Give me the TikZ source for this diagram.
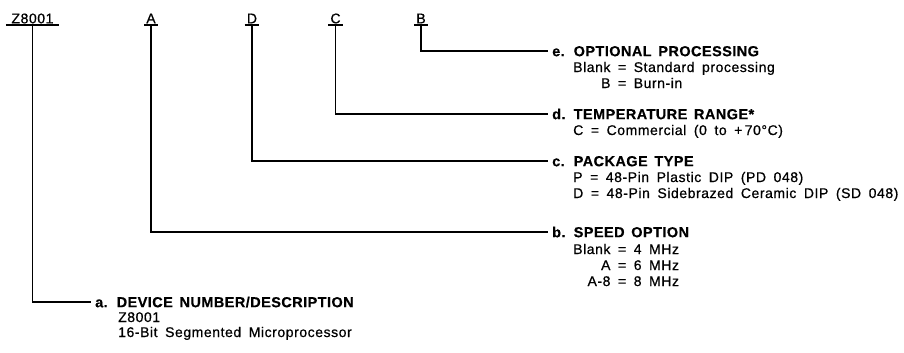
\documentclass[tikz,border=0pt]{standalone}
\usepackage{fontspec}
\setmainfont{Liberation Sans}[LetterSpace=4,WordSpace=1.7,FakeBold=0.6]
\newfontfamily\ttlfont{Liberation Sans}[LetterSpace=3,WordSpace=1.5,BoldFeatures={FakeBold=0.4}]
\tikzset{
  code/.style={font=\fontsize{14}{16}\selectfont, inner ysep=1.5pt, inner xsep=2pt, text depth=0pt, anchor=south},
  ttl/.style={font=\ttlfont\fontsize{14.5}{16}\selectfont\bfseries, anchor=west, inner xsep=4pt, inner ysep=0pt, text height=10.4pt, text depth=0pt},
  desc/.style={font=\fontsize{14}{16}\selectfont, anchor=base west, inner sep=0pt},
  conn/.style={line width=1.3pt}
}
\newcommand{\lbl}[2]{\makebox[21.5pt][l]{#1}#2}
\begin{document}
\begin{tikzpicture}[x=1pt,y=-1pt]
\path[use as bounding box, fill=white] (0,0) rectangle (904,353);
% top code letters
\node[code, inner xsep=5.5pt] (zl) at (32.5,25) {Z8001};
\node[code] (al) at (151,25) {A};
\node[code] (dl) at (252,25) {D};
\node[code] (cl) at (335.5,25) {C};
\node[code] (bl) at (421,25) {B};
\foreach \n in {zl,al,dl,cl,bl}{\draw[conn] (\n.south west) -- (\n.south east);}
% titles
\node[ttl] (te) at (548,51) {\lbl{e.}{OPTIONAL PROCESSING}};
\node[ttl] (td) at (548,114) {\lbl{d.}{TEMPERATURE RANGE*}};
\node[ttl] (tc) at (548,161) {\lbl{c.}{PACKAGE TYPE}};
\node[ttl] (tb) at (548,232) {\lbl{b.}{SPEED OPTION}};
\node[ttl] (ta) at (91,302) {\lbl{a.}{DEVICE NUMBER/DESCRIPTION}};
% descriptions
\node[desc] (se) at (573,72) {\begin{tabular}[t]{@{}r@{ = }l@{}}Blank & Standard processing\\ B & Burn-in\end{tabular}};
\node[desc] (sd) at (573,135) {C = Commercial (0 to +\,70°C)};
\node[desc] (sc) at (573,182) {\begin{tabular}[t]{@{}l@{}}P = 48-Pin Plastic DIP (PD 048)\\ D = 48-Pin Sidebrazed Ceramic DIP (SD 048)\end{tabular}};
\node[desc] (sb) at (573,254) {\begin{tabular}[t]{@{}r@{ = }l@{}}Blank & 4 MHz\\ A & 6 MHz\\ A-8 & 8 MHz\end{tabular}};
\node[desc, font=\fontsize{14}{15}\selectfont] (sa) at (118,322) {\begin{tabular}[t]{@{}l@{}}Z8001\\ 16-Bit Segmented Microprocessor\end{tabular}};
% connectors
\draw[conn] (bl.south) |- (te.west);
\draw[conn] (cl.south) |- (td.west);
\draw[conn] (dl.south) |- (tc.west);
\draw[conn] (al.south) |- (tb.west);
\draw[conn] (zl.south) |- (ta.west);
\end{tikzpicture}
\end{document}
